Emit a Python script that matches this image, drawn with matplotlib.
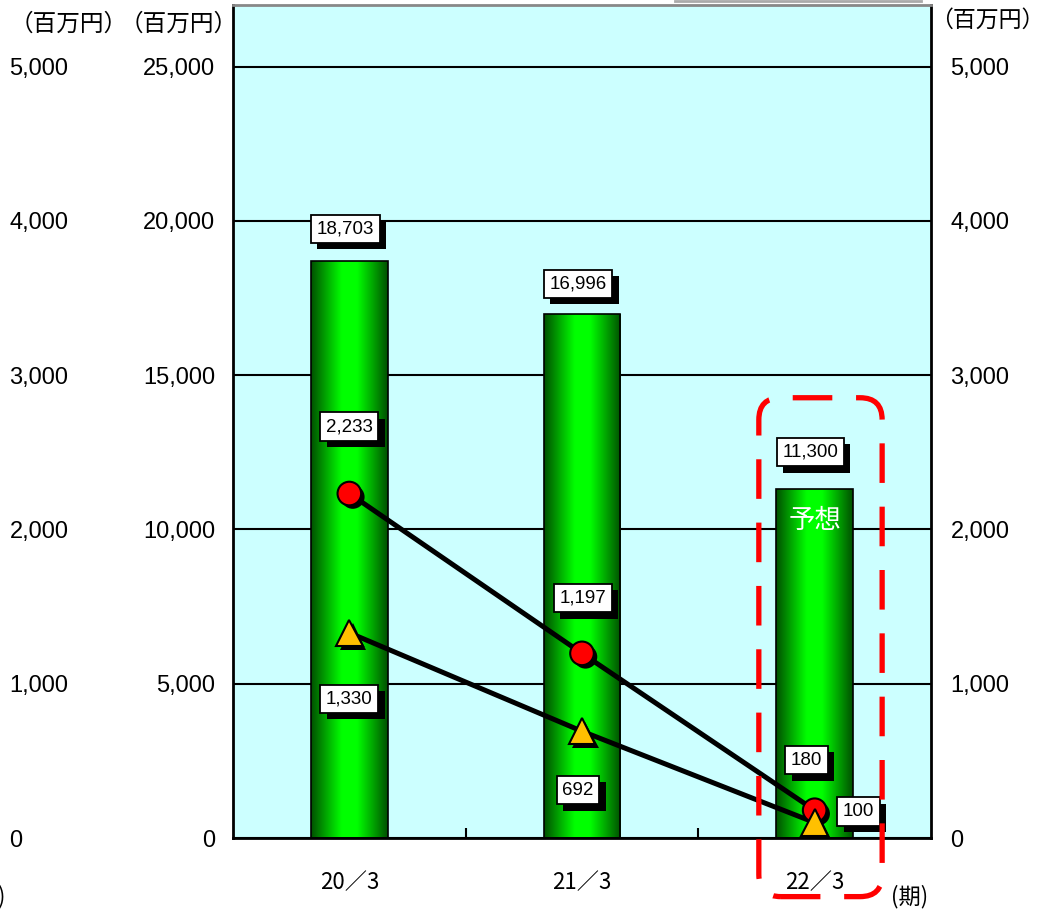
import numpy as np
import matplotlib.pyplot as plt
import matplotlib.patheffects as pe
from matplotlib.colors import LinearSegmentedColormap
from matplotlib.patches import FancyBboxPatch
from matplotlib.transforms import IdentityTransform

plt.rcParams['font.family'] = ['Liberation Sans', 'Noto Sans CJK JP', 'DejaVu Sans']
CJK = ['Noto Sans CJK JP', 'DejaVu Sans']

# ------ Data ------
periods = ['20／3', '21／3', '22／3']
sales = [18703, 16996, 11300]          # bars, left axis (百万円)
ordinary = [2233, 1197, 180]           # red circles, secondary axis
net = [1330, 692, 100]                 # triangles, secondary axis

W, H, DPI = 1057, 913, 100
fig = plt.figure(figsize=(W / DPI, H / DPI), dpi=DPI)
ax = fig.add_axes([233 / W, 75 / H, 698 / W, 833 / H])
ax.set_facecolor('#CCFFFF')

x = np.arange(len(periods))
ax.set_xlim(-0.5, 2.5)
ax.set_ylim(0, 27000)

# grid lines
ax.set_yticks(range(0, 25001, 5000))
ax.set_yticklabels([f'{v:,}' for v in range(0, 25001, 5000)])
ax.yaxis.grid(True, color='black', linewidth=1.5)
ax.set_axisbelow(True)
ax.tick_params(axis='y', length=0, pad=13, labelsize=17)

ax.set_xticks(x)
ax.set_xticklabels(periods, fontfamily=CJK)
ax.set_xticks([0.5, 1.5], minor=True)
ax.tick_params(axis='x', which='major', length=0, pad=24, labelsize=16)
ax.tick_params(axis='x', which='minor', direction='in', length=7, width=1.5, color='black')

for s in ['left', 'right', 'bottom']:
    ax.spines[s].set_linewidth(2)
ax.spines['top'].set_color('#888888')
ax.spines['top'].set_linewidth(2)

# ------ Bars with cylinder shading ------
cmap = LinearSegmentedColormap.from_list('cyl', ['#005000', '#00a800', '#00ff00', '#00ff00', '#00a800', '#005000'])
grad = np.linspace(0, 1, 256).reshape(1, -1)
bars = ax.bar(x, sales, width=0.33, color='none', edgecolor='black', linewidth=1.2, zorder=3)
for b in bars:
    im = ax.imshow(grad, cmap=cmap, aspect='auto', zorder=2.5,
                   extent=(b.get_x(), b.get_x() + b.get_width(), 0, b.get_height()))
    im.set_clip_path(b)

# ------ Secondary axes ------
ax2 = ax.twinx()
ax2.set_ylim(0, 5400)
ax2.set_yticks(range(0, 5001, 1000))
ax2.set_yticklabels([f'{v:,}' for v in range(0, 5001, 1000)])
ax2.tick_params(axis='y', length=0, pad=14, labelsize=17)
for s in ax2.spines.values():
    s.set_visible(False)

ax3 = ax.twinx()
ax3.set_ylim(0, 5400)
ax3.yaxis.tick_left()
ax3.set_yticks(range(0, 5001, 1000))
ax3.set_yticklabels([f'{v:,}' for v in range(0, 5001, 1000)], ha='left')
ax3.tick_params(axis='y', length=0, pad=161, labelsize=17)
for s in ax3.spines.values():
    s.set_visible(False)

shadow = [pe.SimplePatchShadow(offset=(2.5, -2.5), shadow_rgbFace='black', alpha=1), pe.Normal()]

ax2.plot(x, ordinary, color='black', linewidth=3.6, zorder=4)
ax2.plot(x, net, color='black', linewidth=3.6, zorder=4)
ax2.plot(x, ordinary, linestyle='none', marker='o', markersize=17, markerfacecolor='#FF0000',
         markeredgecolor='black', markeredgewidth=1.5, zorder=5, path_effects=shadow)
ax2.plot(x, net, linestyle='none', marker='^', markersize=19, markerfacecolor='#FFC000',
         markeredgecolor='black', markeredgewidth=1.5, zorder=6, path_effects=shadow)

# ------ Value boxes ------
def box(axis, xv, yv, txt, dx, dy):
    t = axis.annotate(txt, (xv, yv), xytext=(dx, dy), textcoords='offset pixels',
                      ha='center', va='center', fontsize=13.5, zorder=8,
                      bbox=dict(boxstyle='square,pad=0.3', fc='white', ec='black', lw=1.3))
    t.get_bbox_patch().set_path_effects(
        [pe.SimplePatchShadow(offset=(4.5, -4.5), shadow_rgbFace='black', alpha=1), pe.Normal()])

for xi, v, dy in zip(x, sales, [32, 30, 37]):
    box(ax, xi, v, f'{v:,}', -4, dy)
for xi, v, dx, dy in zip(x, ordinary, [0, 1, -8], [67, 55, 50]):
    box(ax2, xi, v, f'{v:,}', dx, dy)
for xi, v, dx, dy in zip(x, net, [0, -4, 44], [-66, -59, 11]):
    box(ax2, xi, v, f'{v:,}', dx, dy)

ax.text(2, 10300, '予想', color='white', fontsize=19, ha='center', va='center',
        zorder=4, fontfamily=CJK)

# ------ Dashed forecast frame ------
fig.canvas.draw()
p0 = ax.transData.transform((1.76, -1900))
p1 = ax.transData.transform((2.29, 14270))
frame = FancyBboxPatch((p0[0], p0[1]), p1[0] - p0[0], p1[1] - p0[1],
                       boxstyle='round,pad=0,rounding_size=22', fill=False,
                       edgecolor='#FF0000', linewidth=3.8, linestyle=(0, (7.5, 4.5)),
                       transform=IdentityTransform(), zorder=9, clip_on=False)
fig.patches.append(frame)

# ------ Unit labels ------
for xp, yp in [(10, 24), (120, 24)]:
    fig.text(xp / W, 1 - yp / H, '（百万円）', fontsize=17, va='center', ha='left', fontfamily=CJK)
fig.text(1044 / W, 1 - 20 / H, '（百万円）', fontsize=16.5, va='center', ha='right', fontfamily=CJK)
fig.text(891 / W, 1 - 897 / H, '(期)', fontsize=16, va='center', ha='left', fontfamily=CJK)
fig.text(-3 / W, 1 - 897 / H, ')', fontsize=16, va='center', ha='left', fontfamily=CJK)
fig.add_artist(plt.Line2D([675 / W, 921 / W], [1 - 1 / H, 1 - 1 / H], color='#aaaaaa', linewidth=2))

fig.savefig('out.png', dpi=DPI)
